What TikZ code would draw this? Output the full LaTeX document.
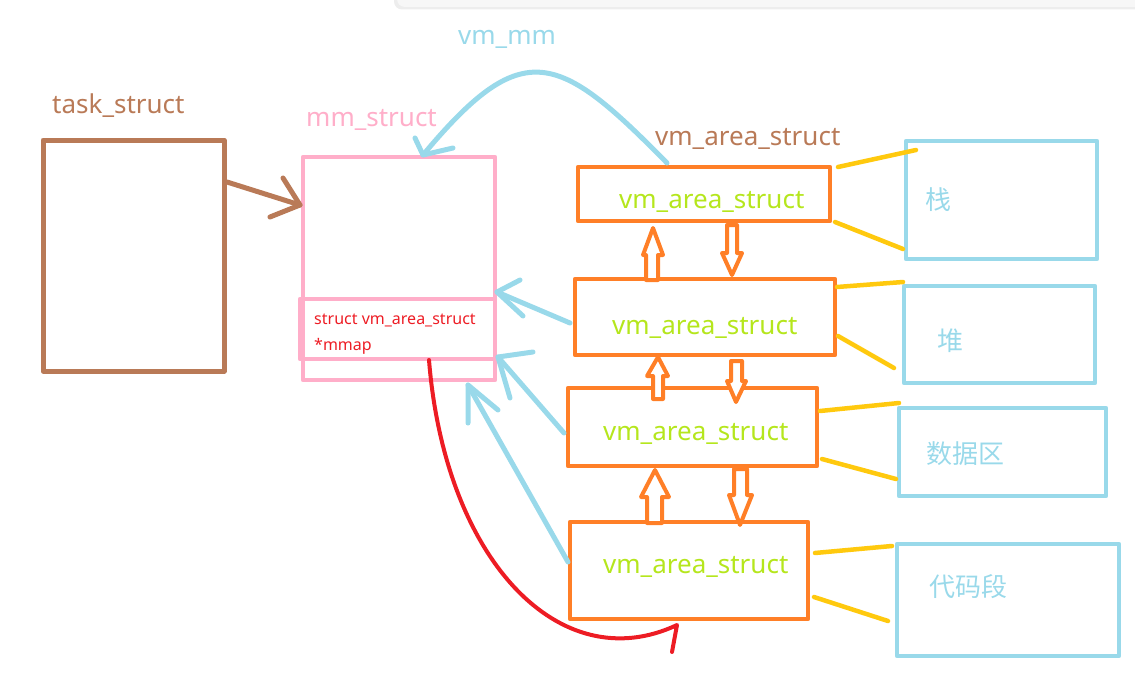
\documentclass[tikz,border=0pt]{standalone}
\usepackage{fontspec}
\setmainfont{Noto Sans}
\newfontfamily\cjk{Noto Sans CJK SC}
\definecolor{cbrown}{HTML}{B97A57}
\definecolor{cpink}{HTML}{FFAEC9}
\definecolor{corange}{HTML}{FF7F27}
\definecolor{cblue}{HTML}{99D9EA}
\definecolor{cgold}{HTML}{FFC90E}
\definecolor{cred}{HTML}{ED1C24}
\definecolor{clime}{HTML}{B5E61D}
\tikzset{
  boxn/.style={anchor=north west, inner sep=0pt, outer sep=0pt},
  lab/.style={font=\fontsize{26}{30}\selectfont, inner sep=0pt, anchor=base west},
  smalllab/.style={font=\fontsize{16}{19}\selectfont, inner sep=0pt, anchor=base west, text=cred},
  cjklab/.style={font=\cjk\fontsize{26}{30}\selectfont, inner sep=0pt, anchor=center, text=cblue},
  obox/.style={boxn, draw=corange, line width=4.6pt},
  rbox/.style={boxn, draw=cblue, line width=4.3pt},
  yline/.style={draw=cgold, line width=4.5pt},
  bline/.style={draw=cblue, line width=5pt},
  blk/.style={draw=corange, line width=4pt, fill=white},
}
\begin{document}
\begin{tikzpicture}[x=1pt,y=-1pt, line cap=round, line join=round]
\useasboundingbox (0,0) rectangle (1135,685);
% top card
\fill[black!7, rounded corners=8pt] (394,-20) rectangle (1150,9.5);
\fill[black!3, rounded corners=8pt] (397,-20) rectangle (1150,7);

% task_struct
\node[boxn, draw=cbrown, line width=5pt, minimum width=181pt, minimum height=231pt] (task) at (43,140) {};
\node[lab, text=cbrown] (tasklab) at (52,113) {task\_struct};

% mm_struct
\node[boxn, draw=cpink, line width=4.3pt, minimum width=192pt, minimum height=223pt] (mm) at (303,157) {};
\node[boxn, draw=cpink, line width=4.3pt, minimum width=195pt, minimum height=60pt] (mmin) at (300,299) {};
\node[lab, text=cpink] (mmlab) at (306,126) {mm\_struct};
\node[smalllab] (mmt1) at (314,324) {struct vm\_area\_struct};
\node[smalllab] (mmt2) at (314,350) {*mmap};

% vm_mm label
\node[lab, text=cblue] (vmmlab) at (458,45) {vm\_mm};

% vm_area_struct boxes
\node[obox, minimum width=252pt, minimum height=54pt] (o1) at (578,167) {};
\node[obox, minimum width=260pt, minimum height=76pt] (o2) at (575,279) {};
\node[obox, minimum width=249pt, minimum height=78pt] (o3) at (568,388) {};
\node[obox, minimum width=238pt, minimum height=97pt] (o4) at (570,522) {};
\node[lab, text=cbrown] (valab) at (655,145) {vm\_area\_struct};
\node[lab, text=clime] (t1) at (619,208) {vm\_area\_struct};
\node[lab, text=clime] (t2) at (612,334) {vm\_area\_struct};
\node[lab, text=clime] (t3) at (603,440) {vm\_area\_struct};
\node[lab, text=clime] (t4) at (603,573) {vm\_area\_struct};

% right boxes
\node[rbox, minimum width=191pt, minimum height=118pt] (r1) at (906,141) {};
\node[rbox, minimum width=191pt, minimum height=97pt] (r2) at (904,286) {};
\node[rbox, minimum width=207pt, minimum height=88pt] (r3) at (899,408) {};
\node[rbox, minimum width=222pt, minimum height=112pt] (r4) at (897,544) {};
\node[cjklab] (c1) at (938,200) {栈};
\node[cjklab] (c2) at (950,341) {堆};
\node[cjklab] (c3) at (965,454) {数据区};
\node[cjklab] (c4) at (968,587) {代码段};

% yellow links
\draw[yline] (838,167) -- (916,150);
\draw[yline] (835,222) -- (903,249);
\draw[yline] (837,287) -- (903,282);
\draw[yline] (838,336) -- (894,368);
\draw[yline] (820,411) -- (899,403);
\draw[yline] (822,459) -- (896,479);
\draw[yline] (815,553) -- (892,546);
\draw[yline] (814,597) -- (888,621);

% hollow block arrows (up)
\foreach \a/\b/\hl/\hr/\tx/\ty/\hy/\by in {646/658/643/663/653/228/255/280, 653/663/647/668/658/357/376/399, 647/662/641/669/655/470/497/523}
  \draw[blk] (\a,\by) -- (\a,\hy) -- (\hl,\hy) -- (\tx,\ty) -- (\hr,\hy) -- (\b,\hy) -- (\b,\by) -- cycle;
% hollow block arrows (down)
\foreach \a/\b/\hl/\hr/\tx/\ty/\hy/\tp in {727/737/722/742/732/275/253/225, 731/742/727/746/736/402/381/361, 734/747/729/752/740/525/495/469}
  \draw[blk] (\a,\tp) -- (\a,\hy) -- (\hl,\hy) -- (\tx,\ty) -- (\hr,\hy) -- (\b,\hy) -- (\b,\tp) -- cycle;

% brown arrow task -> mm
\coordinate (bS) at (227,182);
\coordinate (bT) at (300,205);
\draw[draw=cbrown, line width=5pt] (bS) -- (bT);
\draw[draw=cbrown, line width=5pt] (283,178) -- (bT) -- (270,217);

% vm_mm arc
\coordinate (aS) at (667,163);
\coordinate (aT) at (423,155);
\draw[bline] (aS) .. controls (558,52) and (523,35) .. (aT);
\draw[bline] (415,138) -- (aT) -- (453,148);

% blue arrows to mm_struct
\coordinate (b2S) at (570,323); \coordinate (b2T) at (497,292);
\draw[bline] (b2S) -- (b2T);
\draw[bline] (520,280) -- (b2T) -- (523,316);
\coordinate (b3S) at (564,433); \coordinate (b3T) at (498,357);
\draw[bline] (b3S) -- (b3T);
\draw[bline] (533,352) -- (b3T) -- (510,398);
\coordinate (b4S) at (568,562); \coordinate (b4T) at (468,385);
\draw[bline] (b4S) -- (b4T);
\draw[bline] (468,423) -- (b4T) -- (498,410);

% red mmap curve
\coordinate (rS) at (429,360);
\coordinate (rT) at (677,625);
\draw[draw=cred, line width=4pt] (rS) .. controls (445,560) and (560,680) .. (rT) -- (672,652);
\end{tikzpicture}
\end{document}
